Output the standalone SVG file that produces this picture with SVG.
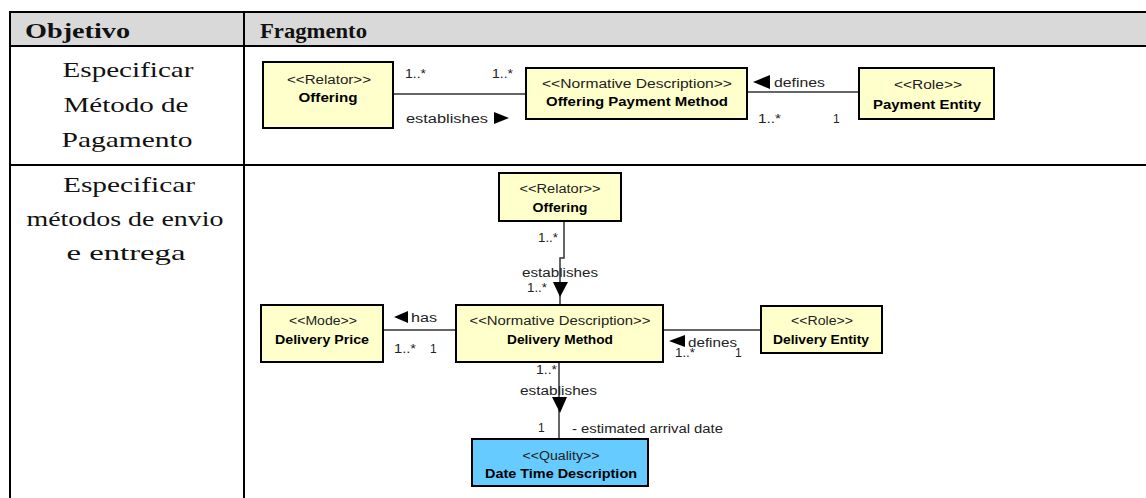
<svg xmlns="http://www.w3.org/2000/svg" width="1146" height="498" viewBox="0 0 1146 498">
  <style>
    .serif { font-family: "Liberation Serif", "Times New Roman", serif; fill: #111; }
    .hdr { font-size: 21px; font-weight: bold; }
    .cell { font-size: 22px; text-anchor: middle; }
    .tline { stroke: #000; stroke-width: 2; fill: none; }
    .box { fill: #ffffcc; stroke: #000; stroke-width: 2; }
    .qbox { fill: #66ccff; stroke: #000; stroke-width: 2; }
    .st { font-family: "Liberation Sans", Arial, sans-serif; font-size: 12px; fill: #222; text-anchor: middle; }
    .nm { font-family: "Liberation Sans", Arial, sans-serif; font-size: 12px; font-weight: bold; fill: #000; text-anchor: middle; }
    .lbl { font-family: "Liberation Sans", Arial, sans-serif; font-size: 12px; fill: #222; }
    .conn { stroke: #333; stroke-width: 1.5; fill: none; }
    .arr { fill: #000; stroke: none; }
  </style>

  <g id="table">
    <rect x="10" y="12" width="1136" height="34" fill="#d9d9d9"/>
    <line class="tline" x1="10" y1="12" x2="1146" y2="12"/>
    <line class="tline" x1="10" y1="46" x2="1146" y2="46"/>
    <line class="tline" x1="10" y1="165" x2="1146" y2="165"/>
    <line class="tline" x1="10" y1="11" x2="10" y2="498"/>
    <line class="tline" x1="244" y1="11" x2="244" y2="498"/>
    <text class="serif hdr" x="25" y="38" textLength="105" lengthAdjust="spacingAndGlyphs">Objetivo</text>
    <text class="serif hdr" x="260" y="38" textLength="107" lengthAdjust="spacingAndGlyphs">Fragmento</text>
    <text class="serif cell" x="128" y="77" textLength="131" lengthAdjust="spacingAndGlyphs">Especificar</text>
    <text class="serif cell" x="126" y="112" textLength="125" lengthAdjust="spacingAndGlyphs">Método de</text>
    <text class="serif cell" x="127" y="147" textLength="131" lengthAdjust="spacingAndGlyphs">Pagamento</text>
    <text class="serif cell" x="129" y="192" textLength="132" lengthAdjust="spacingAndGlyphs">Especificar</text>
    <text class="serif cell" x="125" y="226" textLength="197" lengthAdjust="spacingAndGlyphs">métodos de envio</text>
    <text class="serif cell" x="126" y="260" textLength="119" lengthAdjust="spacingAndGlyphs">e entrega</text>
  </g>

  <g id="connectors">
    <!-- row 1 -->
    <line class="conn" x1="393" y1="94" x2="526" y2="94"/>
    <text class="lbl" x="405" y="78" textLength="21" lengthAdjust="spacingAndGlyphs">1..*</text>
    <text class="lbl" x="492" y="78" textLength="21" lengthAdjust="spacingAndGlyphs">1..*</text>
    <text class="lbl" x="406" y="123" textLength="82" lengthAdjust="spacingAndGlyphs">establishes</text>
    <polygon class="arr" points="494,112 509,118 494,124"/>
    <line class="conn" x1="747" y1="92" x2="859" y2="92"/>
    <polygon class="arr" points="753,82 770,75 770,89"/>
    <text class="lbl" x="774" y="87" textLength="51" lengthAdjust="spacingAndGlyphs">defines</text>
    <text class="lbl" x="758" y="123" textLength="23" lengthAdjust="spacingAndGlyphs">1..*</text>
    <text class="lbl" x="833" y="123">1</text>

    <!-- row 2: Offering -> Delivery Method -->
    <polyline class="conn" points="564,221 564,258 560,258 560,305"/>
    <text class="lbl" x="538" y="242" textLength="20" lengthAdjust="spacingAndGlyphs">1..*</text>
    <text class="lbl" x="522" y="277" textLength="76" lengthAdjust="spacingAndGlyphs">establishes</text>
    <polygon class="arr" points="553,282 568,282 560,297"/>
    <text class="lbl" x="527" y="292" textLength="20" lengthAdjust="spacingAndGlyphs">1..*</text>

    <!-- has -->
    <line class="conn" x1="383" y1="330" x2="456" y2="330"/>
    <polygon class="arr" points="394,317 408,311 408,323"/>
    <text class="lbl" x="411" y="322" textLength="26" lengthAdjust="spacingAndGlyphs">has</text>
    <text class="lbl" x="394" y="353" textLength="22" lengthAdjust="spacingAndGlyphs">1..*</text>
    <text class="lbl" x="430" y="353">1</text>

    <!-- defines -->
    <line class="conn" x1="663" y1="330" x2="761" y2="330"/>
    <polygon class="arr" points="669,341 685,335 685,347"/>
    <text class="lbl" x="688" y="347" textLength="49" lengthAdjust="spacingAndGlyphs">defines</text>
    <text class="lbl" x="675" y="357" textLength="20" lengthAdjust="spacingAndGlyphs">1..*</text>
    <text class="lbl" x="735" y="357">1</text>

    <!-- Delivery Method -> Date Time Description -->
    <line class="conn" x1="559" y1="362" x2="559" y2="439"/>
    <text class="lbl" x="536" y="374" textLength="21" lengthAdjust="spacingAndGlyphs">1..*</text>
    <text class="lbl" x="520" y="395" textLength="77" lengthAdjust="spacingAndGlyphs">establishes</text>
    <polygon class="arr" points="552,397 567,397 560,413"/>
    <text class="lbl" x="538" y="432">1</text>
    <text class="lbl" x="572" y="433" textLength="151" lengthAdjust="spacingAndGlyphs">- estimated arrival date</text>
  </g>

  <g id="node-offering-1">
    <rect class="box" x="263" y="62" width="130" height="66"/>
    <text class="st" x="329" y="84" textLength="84" lengthAdjust="spacingAndGlyphs">&lt;&lt;Relator&gt;&gt;</text>
    <text class="nm" x="328" y="102" textLength="59" lengthAdjust="spacingAndGlyphs">Offering</text>
  </g>
  <g id="node-offering-payment-method">
    <rect class="box" x="526" y="68" width="221" height="51"/>
    <text class="st" x="637" y="88" textLength="190" lengthAdjust="spacingAndGlyphs">&lt;&lt;Normative Description&gt;&gt;</text>
    <text class="nm" x="637" y="106" textLength="182" lengthAdjust="spacingAndGlyphs">Offering Payment Method</text>
  </g>
  <g id="node-payment-entity">
    <rect class="box" x="859" y="68" width="135" height="51"/>
    <text class="st" x="928" y="89" textLength="68" lengthAdjust="spacingAndGlyphs">&lt;&lt;Role&gt;&gt;</text>
    <text class="nm" x="927" y="109" textLength="108" lengthAdjust="spacingAndGlyphs">Payment Entity</text>
  </g>

  <g id="node-offering-2">
    <rect class="box" x="499" y="173" width="122" height="48"/>
    <text class="st" x="560" y="193" textLength="81" lengthAdjust="spacingAndGlyphs">&lt;&lt;Relator&gt;&gt;</text>
    <text class="nm" x="560" y="212" textLength="55" lengthAdjust="spacingAndGlyphs">Offering</text>
  </g>
  <g id="node-delivery-method">
    <rect class="box" x="456" y="305" width="207" height="57"/>
    <text class="st" x="560" y="325" textLength="181" lengthAdjust="spacingAndGlyphs">&lt;&lt;Normative Description&gt;&gt;</text>
    <text class="nm" x="560" y="344" textLength="106" lengthAdjust="spacingAndGlyphs">Delivery Method</text>
  </g>
  <g id="node-delivery-price">
    <rect class="box" x="261" y="305" width="122" height="57"/>
    <text class="st" x="323" y="325" textLength="68" lengthAdjust="spacingAndGlyphs">&lt;&lt;Mode&gt;&gt;</text>
    <text class="nm" x="322" y="344" textLength="94" lengthAdjust="spacingAndGlyphs">Delivery Price</text>
  </g>
  <g id="node-delivery-entity">
    <rect class="box" x="761" y="306" width="121" height="47"/>
    <text class="st" x="822" y="325" textLength="62" lengthAdjust="spacingAndGlyphs">&lt;&lt;Role&gt;&gt;</text>
    <text class="nm" x="821" y="344" textLength="96" lengthAdjust="spacingAndGlyphs">Delivery Entity</text>
  </g>
  <g id="node-date-time-description">
    <rect class="qbox" x="472" y="439" width="176" height="47"/>
    <text class="st" x="561" y="460" textLength="77" lengthAdjust="spacingAndGlyphs">&lt;&lt;Quality&gt;&gt;</text>
    <text class="nm" x="561" y="478" textLength="152" lengthAdjust="spacingAndGlyphs">Date Time Description</text>
  </g>
</svg>
